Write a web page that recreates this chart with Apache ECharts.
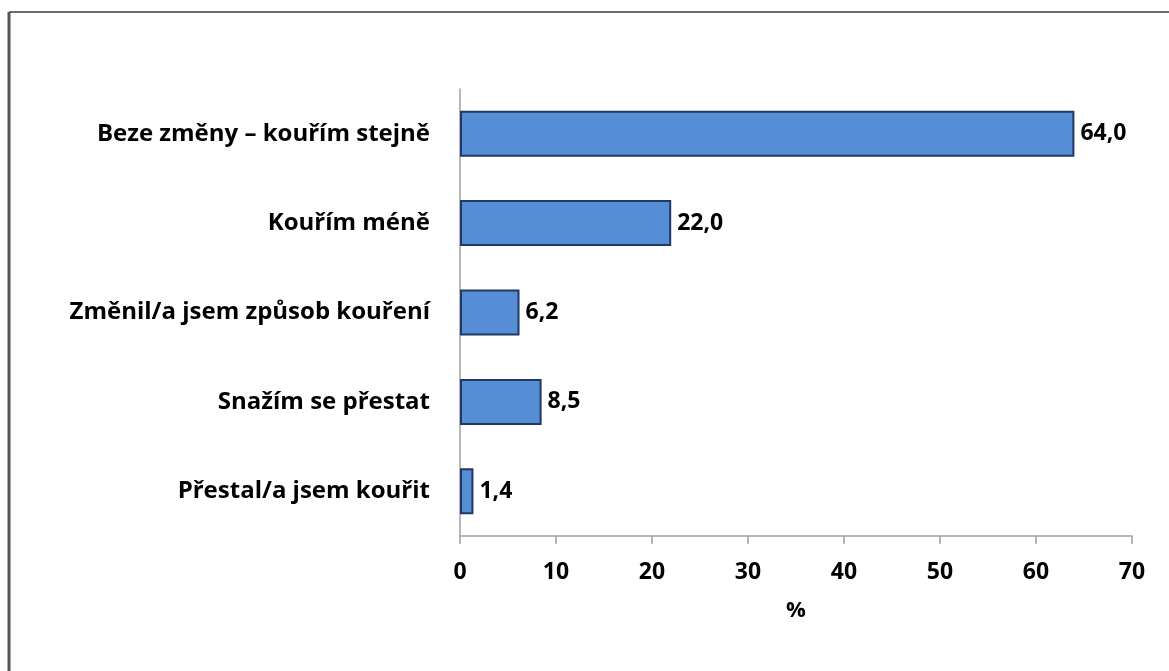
<!DOCTYPE html>
<html><head><meta charset="utf-8">
<script src="https://cdn.jsdelivr.net/npm/echarts@6/dist/echarts.min.js"></script>
<style>html,body{margin:0;padding:0;background:#fff}#c{width:1169px;height:671px}</style>
</head><body><div id="c"></div>
<script>
const categories = ["Přestal/a jsem kouřit","Snažím se přestat","Změnil/a jsem způsob kouření","Kouřím méně","Beze změny – kouřím stejně"];
const values = [1.4, 8.5, 6.2, 22.0, 64.0];
const xTicks = [0,10,20,30,40,50,60,70];
const font = "'Open Sans', 'Noto Sans', sans-serif";
const chart = echarts.init(document.getElementById('c'), null, {renderer:'canvas'});
chart.setOption({
  animation:false,
  graphic:[
    {type:'line', shape:{x1:9,y1:12,x2:1169,y2:12}, style:{stroke:'#6b6b6b', lineWidth:2}},
    {type:'line', shape:{x1:9,y1:12,x2:9,y2:671}, style:{stroke:'#555', lineWidth:3}}
  ],
  grid:{left:460, right:37, top:89, bottom:135, containLabel:false},
  xAxis:{type:'value', min:xTicks[0], max:xTicks[xTicks.length-1], interval:10,
    name:'%', nameLocation:'middle', nameGap:64,
    nameTextStyle:{fontFamily:font, fontWeight:'bold', fontSize:22, color:'#000'},
    axisLine:{show:true, lineStyle:{color:'#a0a0a0', width:1.5}},
    axisTick:{show:true, length:8, lineStyle:{color:'#a0a0a0', width:1.5}},
    splitLine:{show:false},
    axisLabel:{fontFamily:font, fontWeight:'bold', fontSize:23, color:'#000', margin:25}},
  yAxis:{type:'category', data:categories,
    axisLine:{show:true, lineStyle:{color:'#a0a0a0', width:1.5}},
    axisTick:{show:false},
    axisLabel:{fontFamily:font, fontWeight:'bold', fontSize:24, color:'#000', margin:30}},
  series:[{type:'bar', data:values, barWidth:46,
    itemStyle:{color:'#558ED5', borderColor:'#1F3864', borderWidth:2},
    label:{show:true, position:'right', distance:6, fontFamily:font, fontWeight:'bold', fontSize:23, color:'#000',
      formatter:p=>p.value.toFixed(1).replace('.',',')}}]
});
</script></body></html>
